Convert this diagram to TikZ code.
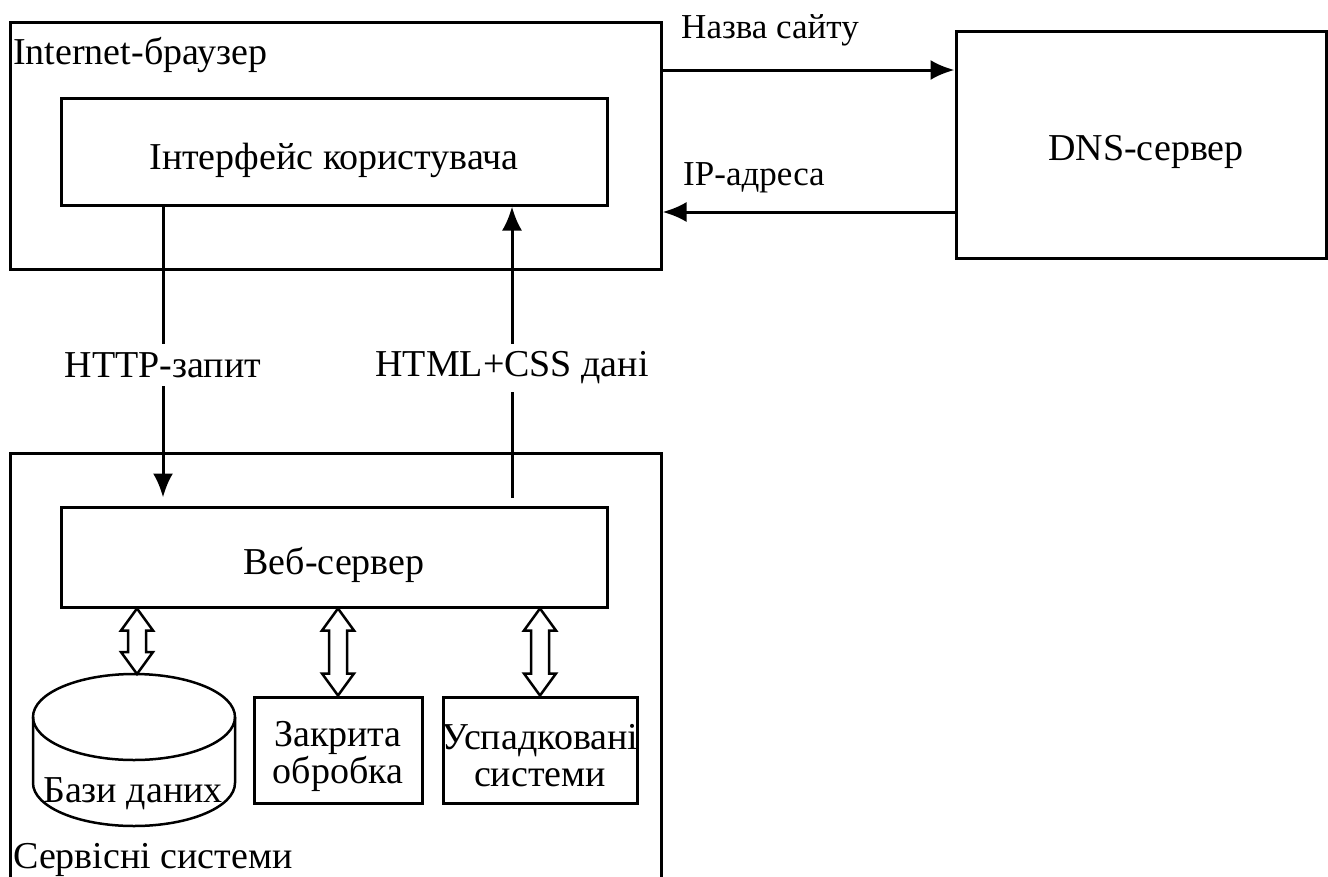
\documentclass[tikz,border=0pt]{standalone}
\usepackage{fontspec}
\setmainfont{Liberation Serif}
\usetikzlibrary{positioning,calc,arrows.meta}

\newcommand{\bigtxt}{\fontsize{38}{37}\selectfont}
\newcommand{\lbltxt}{\fontsize{35}{35}\selectfont}
\newcommand{\dblarrow}[2]{%
  \draw[hollow] let \p1=(#1), \p2=(#2) in
    (\x1,\y1) -- (\x1+16pt,\y1-22pt) -- (\x1+9pt,\y1-22pt) -- (\x1+9pt,\y2+22pt) -- (\x1+16pt,\y2+22pt)
    -- (\x1,\y2) -- (\x1-16pt,\y2+22pt) -- (\x1-9pt,\y2+22pt) -- (\x1-9pt,\y1-22pt) -- (\x1-16pt,\y1-22pt) -- cycle;}

\begin{document}
\begin{tikzpicture}[x=1pt,y=-1pt]
        \tikzstyle{box}=[draw, line width=3pt, inner sep=0pt]
        \tikzstyle{txt}=[inner sep=0pt, align=center, font=\bigtxt]
        \tikzstyle{lbl}=[inner sep=0pt, font=\lbltxt]
        \tikzstyle{arr}=[line width=3pt, -{Latex[length=24pt,width=20pt]}]
        \tikzstyle{hollow}=[draw, line width=2.5pt, fill=white]

        \useasboundingbox (0,0) rectangle (1328,876);

        % browser side
        \node[box, minimum width=651pt, minimum height=247pt] (browser) at (335.5,145.5) {};
        \node[txt, anchor=west] (browsertxt) at (13,55) {Internet-браузер};
        \node[box, minimum width=546pt, minimum height=107pt] (iface) at (334,151.5) {};
        \node[txt, yshift=-9pt] (ifacetxt) at (iface) {Інтерфейс користувача};

        \node[box, minimum width=370pt, minimum height=227pt] (dns) at (1141,144.5) {};
        \node[txt] (dnstxt) at (1146,152) {DNS-сервер};
        \node[lbl] (nametxt) at (770,30) {Назва сайту};
        \node[lbl] (iptxt) at (754,178) {IP-адреса};
        \coordinate (q1) at (661,70);
        \coordinate (q2) at (956,212);
        \draw[arr] (q1) -- (q1 -| dns.west);
        \draw[arr] (q2) -- (q2 -| browser.east);

        % services side
        \node[box, minimum width=651pt, minimum height=460pt] (serv) at (335.5,683) {};
        \node[txt, anchor=west] (servtxt) at (13,860) {Сервісні системи};
        \node[box, minimum width=546pt, minimum height=100pt] (web) at (334,557) {};
        \node[txt, yshift=-8pt] (webtxt) at (web) {Веб-сервер};
        \node[box, minimum width=168pt, minimum height=106pt] (closed) at (338,750) {};
        \node[txt, yshift=-6pt] (closedtxt) at (closed) {Закрита\\обробка};
        \node[box, minimum width=194pt, minimum height=106pt] (legacy) at (540,750) {};
        \node[txt, yshift=-6pt] (legacytxt) at (legacy) {Успадковані\\системи};

        \draw[line width=2.5pt] (134,717) ellipse [x radius=101, y radius=43];
        \draw[line width=2.5pt] (33,717) -- (33,783) arc[start angle=180, end angle=0, x radius=101, y radius=43] -- (235,717);
        \coordinate (dbtop) at (137,674);
        \node[txt] (dbtxt) at (133,794) {Бази даних};

        \coordinate (httpx) at (163,0);
        \coordinate (htmlx) at (512,0);
        \draw[arr, shorten >=8pt] (iface.south -| httpx) -- node[pos=0.53, fill=white, inner sep=8pt, font=\bigtxt] (httptxt) {HTTP-запит} (web.north -| httpx);
        \draw[arr, shorten <=8pt] (web.north -| htmlx) -- node[pos=0.46, fill=white, inner sep=8pt, font=\bigtxt] (htmltxt) {HTML+CSS дані} (iface.south -| htmlx);

        \dblarrow{web.south -| dbtop}{dbtop}
        \dblarrow{web.south -| closed.north}{closed.north}
        \dblarrow{web.south -| legacy.north}{legacy.north}
\end{tikzpicture}
\end{document}
